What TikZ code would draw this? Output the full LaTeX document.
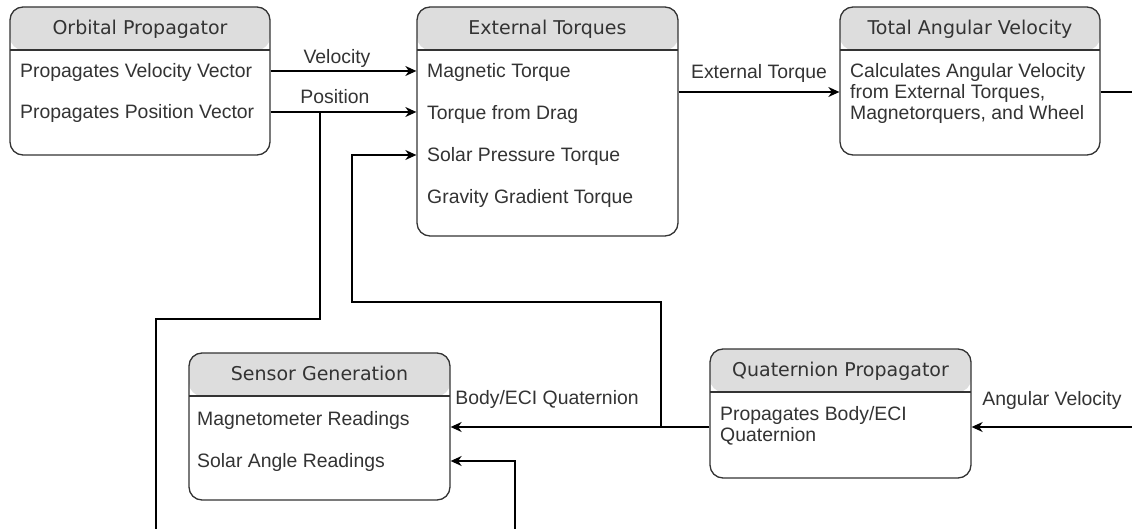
\documentclass[tikz,border=0pt]{standalone}
\usepackage{fontspec}
\setmainfont{Liberation Sans}
\newfontfamily\headfont{DejaVu Sans}
\usetikzlibrary{arrows.meta}
\definecolor{headgray}{HTML}{DDDDDD}
\definecolor{inkgray}{HTML}{333333}

\begin{document}
\begin{tikzpicture}[x=1pt, y=-1pt,
    block/.style={rectangle, draw=inkgray, line width=1.3pt, rounded corners=13pt,
        inner sep=0pt, fill=white,
        path picture={
            \fill[headgray] (path picture bounding box.north west) rectangle
                ([yshift=-43pt]path picture bounding box.north east);
            \draw[inkgray, line width=1.3pt] ([yshift=-43pt]path picture bounding box.north west) --
                ([yshift=-43pt]path picture bounding box.north east);}},
    header/.style={inner sep=0pt, text height=14pt, text depth=0pt, text=inkgray,
        font=\headfont\fontsize{19}{22}\selectfont},
    entry/.style={inner sep=0pt, anchor=west, text height=13.8pt, text depth=0pt,
        text=inkgray, font=\fontsize{19.4}{22}\selectfont},
    tag/.style={entry, anchor=center},
    wire/.style={line width=1.3pt, black},
    arrow/.style={wire, -{Stealth[length=11pt, width=10pt, inset=3.5pt]}}]

\useasboundingbox (0,0) rectangle (1132,529);

% orbital propagator
\node[block, minimum width=260pt, minimum height=148pt] (orbit) at (140,81) {};
\node[header] (orbittitle) at ([yshift=-21.5pt]orbit.north) {Orbital Propagator};
\node[entry] (velvec) at (20,71) {Propagates Velocity Vector};
\node[entry] (posvec) at (20,112) {Propagates Position Vector};

% external torques
\node[block, minimum width=261pt, minimum height=229pt] (torques) at (547.5,121.5) {};
\node[header] (torquestitle) at ([yshift=-21.5pt]torques.north) {External Torques};
\node[entry] (magtorque) at (427,71) {Magnetic Torque};
\node[entry] (dragtorque) at (427,113) {Torque from Drag};
\node[entry] (solartorque) at (427,155) {Solar Pressure Torque};
\node[entry] (gravtorque) at (427,197) {Gravity Gradient Torque};

% total angular velocity
\node[block, minimum width=260pt, minimum height=148pt] (angvel) at (970,81) {};
\node[header] (angveltitle) at ([yshift=-21.5pt]angvel.north) {Total Angular Velocity};
\node[entry] (calcline) at (850,71) {Calculates Angular Velocity};
\node[entry] (fromtorques) at (850,92) {from External Torques,};
\node[entry] (wheelline) at (850,113) {Magnetorquers, and Wheel};

% sensor generation
\node[block, minimum width=261pt, minimum height=147pt] (sensor) at (319.5,426.5) {};
\node[header] (sensortitle) at ([yshift=-21.5pt]sensor.north) {Sensor Generation};
\node[entry] (magread) at (197,419) {Magnetometer Readings};
\node[entry] (solarread) at (197,461) {Solar Angle Readings};

% quaternion propagator
\node[block, minimum width=261pt, minimum height=129pt] (quat) at (840.5,413.5) {};
\node[header] (quattitle) at ([yshift=-21.5pt]quat.north) {Quaternion Propagator};
\node[entry] (quatline) at (720,414) {Propagates Body/ECI};
\node[entry] (quatword) at (720,435) {Quaternion};

% free ends and forks
\coordinate (posfork) at (320,112);
\coordinate (posout) at (156,529);
\coordinate (quatfork) at (661,427);
\coordinate (solarin) at (515,529);
\coordinate (avin) at (1132,427);
\coordinate (angout) at (1132,92);

% connectors
\draw[arrow] (orbit.east |- velvec) -- (torques.west |- velvec);
\draw[arrow] (orbit.east |- posvec) -- (torques.west |- posvec);
\draw[wire] (posfork) -- (320,319) -| (posout);
\draw[arrow] (torques.east |- fromtorques) -- (angvel.west |- fromtorques);
\draw[wire] (angvel.east |- fromtorques) -- (angout);
\draw[arrow] (avin) -- (quat.east |- avin);
\draw[arrow] (quat.west |- avin) -- (sensor.east |- avin);
\draw[arrow] (quatfork) |- (352,302) |- (torques.west |- solartorque);
\draw[arrow] (solarin) |- (sensor.east |- solarread);

% labels
\node[tag] (vellabel) at (337,57) {Velocity};
\node[tag] (poslabel) at (335,97) {Position};
\node[tag] (extlabel) at (759,72) {External Torque};
\node[tag] (avlabel) at (1052,399) {Angular Velocity};
\node[tag] (quatlabel) at (547,398) {Body/ECI Quaternion};
\end{tikzpicture}
\end{document}
